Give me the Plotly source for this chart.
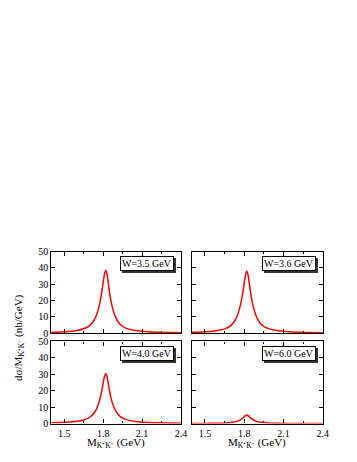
import plotly.graph_objects as go
from plotly.subplots import make_subplots

# invariant mass grid (GeV)
mass = [1.40, 1.50, 1.60, 1.65, 1.70, 1.74, 1.77, 1.79, 1.80, 1.81, 1.82,
        1.83, 1.84, 1.86, 1.89, 1.93, 1.98, 2.05, 2.15, 2.30, 2.40]

# d sigma / dM (nb/GeV)
w35 = [0.7, 1.0, 1.8, 2.8, 5.0, 9.5, 17.0, 25.5, 31.0, 36.0, 38.5,
       36.0, 30.5, 20.0, 11.0, 5.5, 3.0, 1.7, 0.9, 0.5, 0.3]
w36 = [0.7, 1.0, 1.8, 2.7, 4.9, 9.4, 16.8, 25.2, 30.6, 35.5, 38.0,
       35.5, 30.1, 19.7, 10.9, 5.4, 3.0, 1.7, 0.9, 0.5, 0.3]
w40 = [0.5, 0.8, 1.4, 2.2, 4.0, 7.5, 13.4, 20.2, 24.6, 28.5, 30.5,
       28.5, 24.1, 15.8, 8.7, 4.4, 2.4, 1.3, 0.7, 0.4, 0.2]
w60 = [0.1, 0.1, 0.25, 0.4, 0.7, 1.3, 2.3, 3.4, 4.2, 4.9, 5.2,
       4.9, 4.1, 2.7, 1.5, 0.75, 0.4, 0.2, 0.1, 0.05, 0.03]

panels = [("W=3.5 GeV", w35), ("W=3.6 GeV", w36), ("W=4.0 GeV", w40), ("W=6.0 GeV", w60)]

# page body has an 8px margin, so the figure is laid out 8px in from the window corner
OFF = 8
W, H = 357 - OFF, 462 - OFF


def px_x(p):
    return (p - OFF) / W


def px_y(p):
    return 1 - (p - OFF) / H


xdom = [[px_x(52), px_x(184)], [px_x(195), px_x(328.3)]]
ydom = [[px_y(336), px_y(252)], [px_y(428.7), px_y(344.3)]]

fig = make_subplots(rows=2, cols=2)
font = dict(family="Liberation Serif", size=10, color="black")

for i, (label, vals) in enumerate(panels):
    r, c = i // 2 + 1, i % 2 + 1
    fig.add_trace(go.Scatter(x=mass, y=vals, mode="lines", line=dict(color="#ff0000", width=1.5, shape="spline"),
                             showlegend=False), row=r, col=c)
    fig.update_xaxes(domain=xdom[c - 1], range=[1.4, 2.4], tick0=1.5, dtick=0.3,
                     minor=dict(dtick=0.15, tick0=1.5, ticks="inside", ticklen=2.5, tickcolor="black"),
                     showticklabels=(r == 2), row=r, col=c)
    fig.update_yaxes(domain=ydom[r - 1], range=[0, 50], dtick=10, showticklabels=(c == 1), row=r, col=c)
    ax = "" if i == 0 else str(i + 1)
    # shadow then box
    fig.add_annotation(text=label, xref=f"x{ax} domain", yref=f"y{ax} domain", x=0.947, y=0.95,
                       xanchor="right", yanchor="top", showarrow=False, xshift=2, yshift=-2,
                       font=dict(family="Liberation Serif", size=10, color="#333"), bgcolor="#333",
                       bordercolor="#333", borderwidth=1, borderpad=1)
    fig.add_annotation(text=label, xref=f"x{ax} domain", yref=f"y{ax} domain", x=0.947, y=0.95,
                       xanchor="right", yanchor="top", showarrow=False,
                       font=dict(family="Liberation Serif", size=10, color="black"), bgcolor="white",
                       bordercolor="black", borderwidth=1, borderpad=1)

fig.update_xaxes(showline=True, linecolor="black", linewidth=1.2, mirror="ticks", ticks="inside",
                 ticklen=4, tickcolor="black", showgrid=False, zeroline=False, tickfont=font)
fig.update_yaxes(showline=True, linecolor="black", linewidth=1.2, mirror="ticks", ticks="inside",
                 ticklen=4, tickcolor="black", showgrid=False, zeroline=False, tickfont=font)

# axis titles
fig.add_annotation(text="dσ/M<sub>K⁺K⁻</sub> (nb/GeV)", xref="paper", yref="paper", x=px_x(19), y=px_y(340),
                   xanchor="center", yanchor="middle", textangle=-90, showarrow=False,
                   font=dict(family="Liberation Serif", size=11, color="black"))
for c in range(2):
    xc = (xdom[c][0] + xdom[c][1]) / 2
    fig.add_annotation(text="M<sub>K⁺K⁻</sub> (GeV)", xref="paper", yref="paper", x=xc, y=px_y(449),
                       xanchor="center", yanchor="middle", showarrow=False,
                       font=dict(family="Liberation Serif", size=11, color="black"))

fig.update_layout(width=W, height=H, margin=dict(l=0, r=0, t=0, b=0),
                  plot_bgcolor="white", paper_bgcolor="white")

fig.write_html("out.html")
